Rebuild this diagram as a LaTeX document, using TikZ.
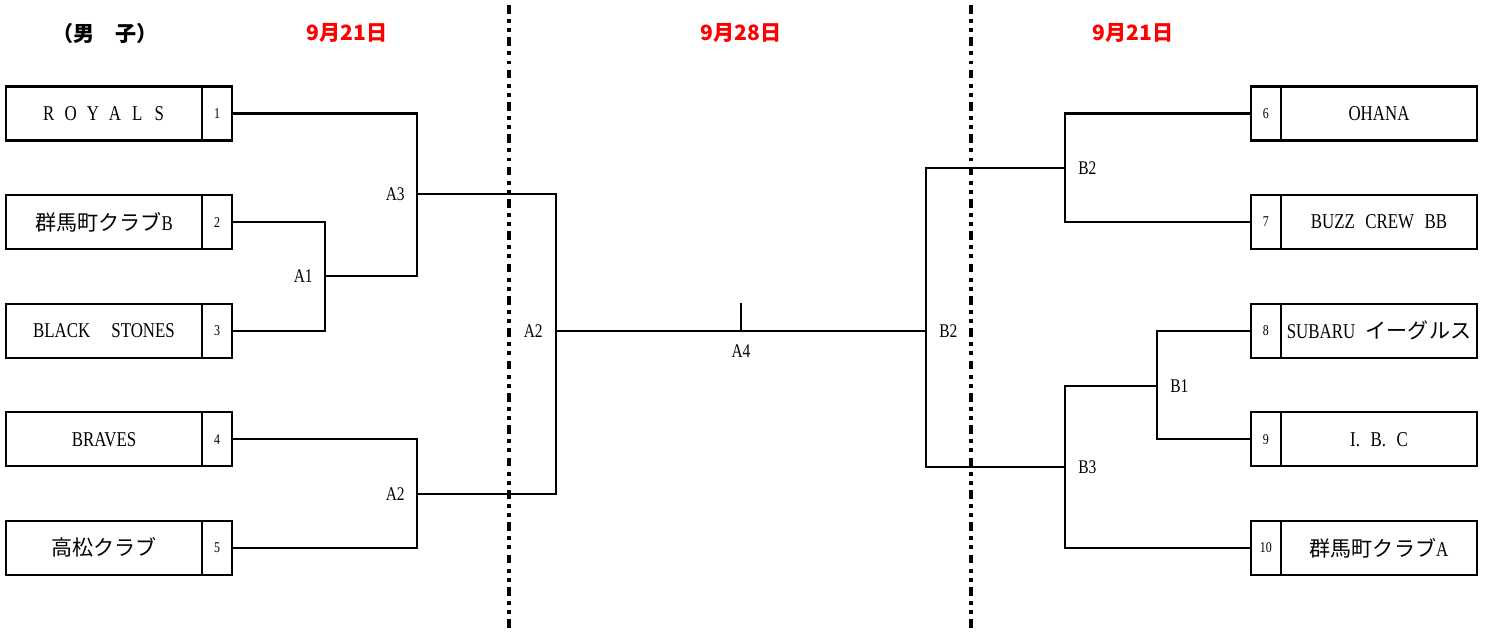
\documentclass[tikz,border=0pt]{standalone}
\usepackage{fontspec}
\setmainfont{Liberation Serif}[FakeStretch=0.8]
\newfontfamily\cjk{Noto Sans CJK JP}
\usepackage{xcolor}
\usepackage{tikz}
\usetikzlibrary{positioning}

\newcommand{\spread}[1]{\makebox[1.05em]{#1}}

\begin{document}
\begin{tikzpicture}[
  x=0.02cm, y=-0.02cm,
  node distance=1.092cm and 0cm,
  team/.style={draw, line width=1.2pt, outer sep=0pt, inner sep=0pt, minimum width=3.93cm, minimum height=1.08cm, font=\fontsize{12}{14}\selectfont},
  num/.style={draw, line width=1.2pt, outer sep=0pt, inner sep=0pt, minimum width=0.6cm, minimum height=1.08cm, font=\fontsize{8.5}{10}\selectfont},
  link/.style={line width=1.2pt},
  lbl/.style={inner sep=0pt, font=\fontsize{11}{12}\selectfont},
  day/.style={text=red, font=\cjk\bfseries\fontsize{12}{14}\selectfont},
  sepline/.style={line width=2pt, dash pattern=on 5pt off 3pt on 2.2pt off 3pt on 2.2pt off 3pt}
]
\useasboundingbox (0,0) rectangle (1489,633);

% Headers
\node[font=\cjk\bfseries\fontsize{12}{14}\selectfont] (title) at (105,33) {（男　子）};
\node[day] (d1) at (347,33) {9月21日};
\node[day] (d2) at (741,33) {9月28日};
\node[day] (d3) at (1133,33) {9月21日};

% Separators
\draw[sepline] (509,5) -- (509,633);
\draw[sepline] (971,5) -- (971,633);

% Nodes, left block
\node[team] (t1) at (104,113.5) {\spread{R}\spread{O}\spread{Y}\spread{A}\spread{L}\spread{S}};
\node[team, below=of t1] (t2) {{\cjk 群馬町クラブ}B};
\node[team, below=of t2] (t3) {BLACK\quad STONES};
\node[team, below=of t3] (t4) {BRAVES};
\node[team, below=of t4] (t5) {{\cjk 高松クラブ}};
\node[num, right=of t1] (n1) {1};
\node[num, right=of t2] (n2) {2};
\node[num, right=of t3] (n3) {3};
\node[num, right=of t4] (n4) {4};
\node[num, right=of t5] (n5) {5};

% Nodes, right block
\node[team] (t6) at (1379,113.5) {OHANA};
\node[team, below=of t6] (t7) {BUZZ\enspace CREW\enspace BB};
\node[team, below=of t7] (t8) {SUBARU\enspace{\cjk イーグルス}};
\node[team, below=of t8] (t9) {I.\enspace B.\enspace C};
\node[team, below=of t9] (t10) {{\cjk 群馬町クラブ}A};
\node[num, left=of t6] (n6) {6};
\node[num, left=of t7] (n7) {7};
\node[num, left=of t8] (n8) {8};
\node[num, left=of t9] (n9) {9};
\node[num, left=of t10] (n10) {10};

% Joints
\coordinate (a1) at (325,276);
\coordinate (a3) at (417,194);
\coordinate (a2) at (417,494);
\coordinate (sa) at (556,331);
\coordinate (fin) at (741,331);
\coordinate (sb) at (926,331);
\coordinate (b2) at (1065,168);
\coordinate (b1) at (1157,386);
\coordinate (b3) at (1065,467);

% Pointers
\draw[link] (n2.east) -| (a1) |- (n3.east);
\draw[link] (n1.east) -| (a3) |- (a1);
\draw[link] (n4.east) -| (a2) |- (n5.east);
\draw[link] (a3) -| (sa) |- (a2);
\draw[link] (sa) -- (sb);
\draw[link] (fin) -- ++(0,-28);
\draw[link] (n6.west) -| (b2) |- (n7.west);
\draw[link] (n8.west) -| (b1) |- (n9.west);
\draw[link] (b1) -| (b3) |- (n10.west);
\draw[link] (b2) -| (sb) |- (b3);

% Labels
\node[lbl, left=0.24cm of a1] (la1) {A1};
\node[lbl, left=0.24cm of a3] (la3) {A3};
\node[lbl, left=0.24cm of a2] (la2) {A2};
\node[lbl, left=0.26cm of sa] (lsa) {A2};
\node[lbl, below=0.26cm of fin] (lfin) {A4};
\node[lbl, right=0.26cm of sb] (lsb) {B2};
\node[lbl, right=0.26cm of b2] (lb2) {B2};
\node[lbl, right=0.26cm of b1] (lb1) {B1};
\node[lbl, right=0.26cm of b3] (lb3) {B3};

\end{tikzpicture}
\end{document}
